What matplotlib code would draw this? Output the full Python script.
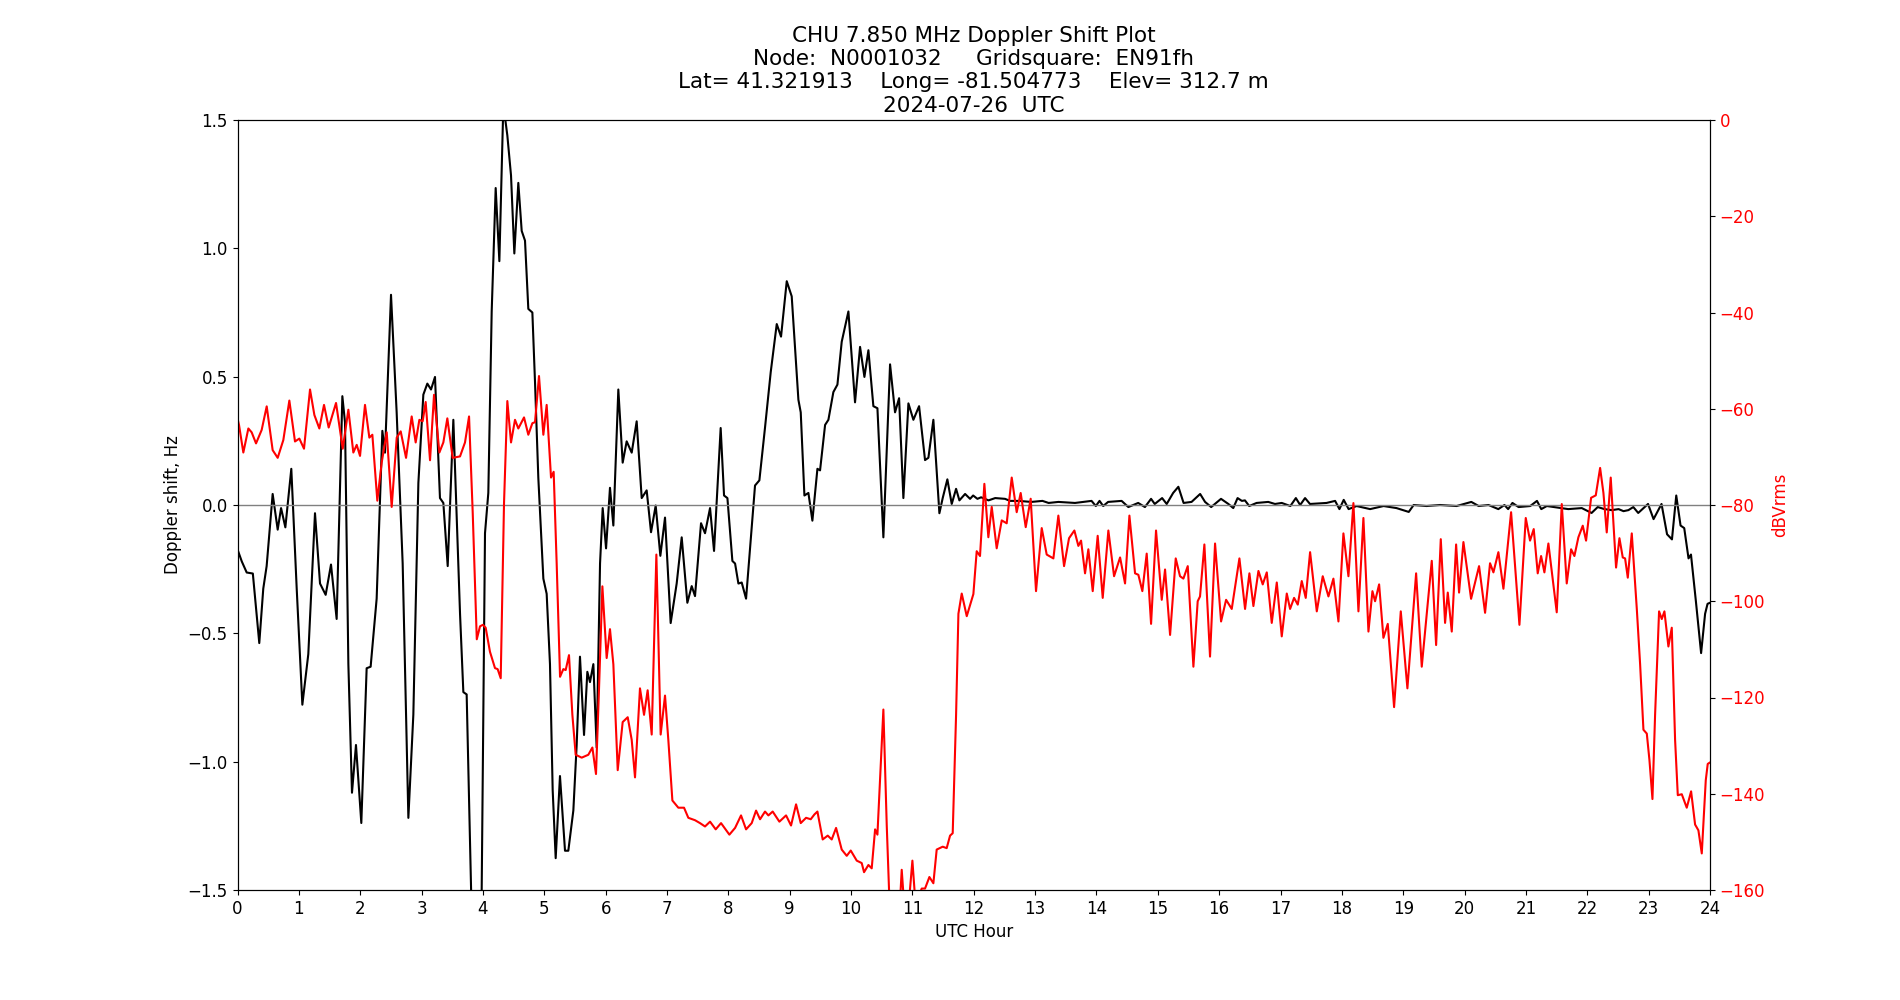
import numpy as np
import matplotlib
matplotlib.use("Agg")
import matplotlib.pyplot as plt

# Doppler shift (Hz)
dop_hours = [0.0, 0.07, 0.15, 0.25, 0.355, 0.42, 0.475, 0.573, 0.655, 0.71, 0.78, 0.877, 0.965,
             1.057, 1.154, 1.263, 1.345, 1.437, 1.524, 1.616, 1.709, 1.752, 1.807, 1.866, 1.931,
             2.018, 2.105, 2.17, 2.268, 2.361, 2.404, 2.502, 2.594, 2.692, 2.785, 2.866, 2.948,
             3.029, 3.094, 3.154, 3.219, 3.3, 3.355, 3.426, 3.518, 3.627, 3.681, 3.735, 3.817,
             3.87, 3.95, 3.98, 4.034, 4.088, 4.143, 4.208, 4.268, 4.333, 4.398, 4.458, 4.512,
             4.577, 4.632, 4.686, 4.74, 4.806, 4.849, 4.903, 4.985, 5.039, 5.093, 5.137, 5.186,
             5.256, 5.338, 5.392, 5.474, 5.528, 5.582, 5.648, 5.702, 5.745, 5.8, 5.854, 5.909,
             5.952, 6.007, 6.071, 6.126, 6.207, 6.278, 6.343, 6.425, 6.506, 6.588, 6.669, 6.74,
             6.816, 6.892, 6.968, 7.06, 7.158, 7.24, 7.332, 7.403, 7.457, 7.555, 7.62, 7.702,
             7.767, 7.875, 7.93, 7.985, 8.066, 8.11, 8.164, 8.218, 8.289, 8.354, 8.435, 8.506,
             8.598, 8.691, 8.789, 8.859, 8.952, 9.033, 9.087, 9.142, 9.18, 9.24, 9.305, 9.37,
             9.452, 9.495, 9.577, 9.631, 9.712, 9.778, 9.848, 9.957, 10.065, 10.147, 10.218,
             10.283, 10.364, 10.43, 10.527, 10.636, 10.717, 10.783, 10.853, 10.935, 11.016,
             11.109, 11.206, 11.261, 11.342, 11.44, 11.494, 11.57, 11.641, 11.712, 11.766,
             11.859, 11.94, 11.99, 12.06, 12.12, 12.24, 12.35, 12.51, 12.59, 12.73, 12.94,
             13.12, 13.22, 13.38, 13.65, 13.92, 13.99, 14.05, 14.11, 14.19, 14.41, 14.52,
             14.68, 14.79, 14.89, 14.95, 15.07, 15.145, 15.25, 15.335, 15.42, 15.55, 15.69,
             15.77, 15.87, 16.03, 16.15, 16.23, 16.3, 16.37, 16.42, 16.49, 16.61, 16.8, 16.91,
             17.02, 17.16, 17.25, 17.32, 17.4, 17.48, 17.75, 17.89, 17.96, 18.03, 18.11, 18.24,
             18.46, 18.68, 18.89, 19.09, 19.17, 19.38, 19.6, 19.87, 20.11, 20.23, 20.39, 20.55,
             20.65, 20.71, 20.78, 20.88, 21.07, 21.18, 21.25, 21.34, 21.58, 21.69, 21.91, 22.07,
             22.17, 22.28, 22.4, 22.51, 22.59, 22.67, 22.75, 22.83, 22.99, 23.08, 23.21, 23.3,
             23.38, 23.45, 23.52, 23.58, 23.65, 23.69, 23.77, 23.855, 23.92, 23.96, 24.0]
dop_hz = [-0.173, -0.22, -0.263, -0.267, -0.538, -0.326, -0.238, 0.043, -0.096, -0.012, -0.087, 0.141, -0.326,
          -0.778, -0.581, -0.032, -0.306, -0.35, -0.232, -0.444, 0.424, 0.322, -0.62, -1.121, -0.935,
          -1.239, -0.636, -0.63, -0.365, 0.289, 0.204, 0.819, 0.361, -0.228, -1.219, -0.817, 0.086,
          0.43, 0.473, 0.45, 0.499, 0.027, 0.008, -0.238, 0.332, -0.424, -0.729, -0.738, -1.6,
          -1.9, -1.7, -1.5, -0.11, 0.047, 0.754, 1.235, 0.95, 1.56, 1.44, 1.284, 0.98,
          1.255, 1.068, 1.03, 0.764, 0.75, 0.479, 0.106, -0.287, -0.346, -0.62, -1.111, -1.376,
          -1.056, -1.347, -1.347, -1.19, -0.935, -0.591, -0.896, -0.65, -0.69, -0.62, -0.945, -0.228,
          -0.012, -0.169, 0.067, -0.08, 0.45, 0.165, 0.248, 0.204, 0.326, 0.027, 0.057, -0.106,
          -0.002, -0.198, -0.049, -0.46, -0.306, -0.126, -0.381, -0.316, -0.355, -0.071, -0.11, -0.012,
          -0.179, 0.3, 0.037, 0.027, -0.218, -0.228, -0.306, -0.302, -0.365, -0.169, 0.076, 0.096,
          0.302, 0.518, 0.705, 0.656, 0.872, 0.813, 0.616, 0.41, 0.361, 0.037, 0.047, -0.061,
          0.141, 0.135, 0.312, 0.332, 0.44, 0.469, 0.636, 0.754, 0.4, 0.616, 0.499,
          0.603, 0.385, 0.377, -0.126, 0.548, 0.361, 0.416, 0.027, 0.396, 0.332,
          0.385, 0.175, 0.184, 0.332, -0.032, 0.027, 0.1, 0.004, 0.063, 0.018,
          0.043, 0.024, 0.037, 0.024, 0.03, 0.018, 0.027, 0.024, 0.016, 0.016, 0.012,
          0.016, 0.008, 0.012, 0.008, 0.016, -0.004, 0.016, -0.004, 0.012, 0.016, -0.008,
          0.008, -0.008, 0.024, 0.004, 0.027, 0.004, 0.047, 0.071, 0.008, 0.012, 0.043,
          0.012, -0.008, 0.024, 0.004, -0.012, 0.027, 0.016, 0.018, -0.004, 0.008, 0.012, 0.004,
          0.008, -0.004, 0.027, 0.0, 0.027, 0.004, 0.008, 0.016, -0.016, 0.02, -0.016, -0.004,
          -0.016, -0.004, -0.012, -0.027, 0.0, -0.004, 0.0, -0.004, 0.012, -0.004, 0.0, -0.016,
          0.0, -0.016, 0.008, -0.008, -0.004, 0.016, -0.016, -0.004, -0.012, -0.016, -0.012, -0.031,
          -0.008, -0.016, -0.02, -0.016, -0.024, -0.02, -0.008, -0.031, 0.004, -0.055, 0.004, -0.114,
          -0.134, 0.037, -0.08, -0.09, -0.208, -0.193, -0.375, -0.577, -0.424, -0.385, -0.381]

# signal level (dBVrms)
pwr_hours = [0.0, 0.025, 0.095, 0.177, 0.231, 0.302, 0.394, 0.476, 0.573, 0.655, 0.747, 0.845, 0.937,
             1.008, 1.084, 1.182, 1.253, 1.334, 1.41, 1.486, 1.606, 1.715, 1.807, 1.888, 1.943,
             1.997, 2.078, 2.149, 2.198, 2.279, 2.35, 2.432, 2.513, 2.595, 2.66, 2.747, 2.839,
             2.904, 2.964, 3.018, 3.067, 3.138, 3.203, 3.29, 3.355, 3.42, 3.507, 3.627, 3.708,
             3.774, 3.834, 3.9, 3.953, 4.0, 4.045, 4.115, 4.197, 4.24, 4.29, 4.344, 4.398,
             4.458, 4.523, 4.577, 4.67, 4.74, 4.806, 4.849, 4.914, 4.985, 5.039, 5.11, 5.153,
             5.202, 5.257, 5.311, 5.349, 5.403, 5.458, 5.512, 5.61, 5.718, 5.784, 5.843, 5.892,
             5.947, 6.017, 6.071, 6.126, 6.197, 6.278, 6.36, 6.425, 6.479, 6.56, 6.626, 6.685,
             6.751, 6.827, 6.897, 6.968, 7.022, 7.088, 7.185, 7.278, 7.348, 7.457, 7.538, 7.62,
             7.702, 7.794, 7.881, 8.017, 8.11, 8.207, 8.289, 8.381, 8.452, 8.517, 8.598, 8.653,
             8.723, 8.832, 8.941, 9.022, 9.104, 9.18, 9.267, 9.343, 9.403, 9.452, 9.538, 9.62,
             9.685, 9.756, 9.848, 9.93, 9.995, 10.093, 10.174, 10.212, 10.283, 10.337, 10.392,
             10.43, 10.527, 10.582, 10.625, 10.68, 10.745, 10.8, 10.826, 10.86, 10.9, 10.96,
             11.0, 11.04, 11.08, 11.152, 11.206, 11.277, 11.342, 11.396, 11.494, 11.559, 11.614,
             11.657, 11.712, 11.75, 11.804, 11.886, 11.994, 12.048, 12.102, 12.173, 12.238,
             12.293, 12.374, 12.456, 12.537, 12.619, 12.7, 12.765, 12.847, 12.928, 13.015, 13.108,
             13.189, 13.298, 13.379, 13.472, 13.553, 13.64, 13.705, 13.749, 13.814, 13.868, 13.939,
             14.02, 14.102, 14.194, 14.287, 14.385, 14.466, 14.537, 14.629, 14.683, 14.748, 14.819,
             14.89, 14.971, 15.064, 15.118, 15.2, 15.292, 15.362, 15.417, 15.488, 15.58, 15.65,
             15.688, 15.759, 15.851, 15.933, 16.031, 16.113, 16.205, 16.33, 16.422, 16.493, 16.558,
             16.64, 16.71, 16.776, 16.857, 16.939, 17.02, 17.102, 17.156, 17.221, 17.281, 17.346,
             17.411, 17.482, 17.591, 17.688, 17.781, 17.862, 17.944, 18.025, 18.107, 18.188, 18.27,
             18.351, 18.433, 18.498, 18.541, 18.607, 18.677, 18.748, 18.851, 18.96, 19.068, 19.21,
             19.302, 19.384, 19.465, 19.536, 19.612, 19.682, 19.726, 19.791, 19.862, 19.91, 19.981,
             20.106, 20.236, 20.334, 20.415, 20.47, 20.551, 20.633, 20.758, 20.894, 20.997, 21.067,
             21.127, 21.192, 21.247, 21.301, 21.366, 21.502, 21.584, 21.665, 21.736, 21.79, 21.855,
             21.926, 21.98, 22.062, 22.138, 22.209, 22.263, 22.317, 22.382, 22.469, 22.524, 22.578,
             22.616, 22.66, 22.725, 22.807, 22.861, 22.915, 22.97, 23.013, 23.062, 23.105, 23.17,
             23.214, 23.257, 23.322, 23.377, 23.431, 23.475, 23.54, 23.621, 23.692, 23.757, 23.811,
             23.866, 23.931, 23.963, 24.0]
pwr_db = [-62.0, -63.4, -69.1, -64.1, -64.9, -67.2, -64.4, -59.5, -68.6, -70.2, -66.5, -58.3, -66.8,
          -66.2, -68.3, -56.0, -61.3, -64.1, -59.2, -63.9, -58.8, -68.3, -60.2, -69.1, -67.5,
          -69.8, -59.2, -66.0, -65.4, -79.1, -71.2, -64.9, -80.4, -66.0, -64.7, -70.2, -61.6,
          -67.0, -62.3, -62.6, -58.6, -70.7, -57.1, -69.1, -67.0, -62.0, -70.2, -69.9, -67.0,
          -61.6, -81.7, -107.9, -105.2, -104.9, -105.5, -110.5, -113.9, -114.1, -116.0, -79.6, -58.4,
          -67.0, -62.3, -64.1, -61.8, -65.4, -63.0, -62.8, -53.2, -65.4, -59.2, -74.3, -73.1,
          -92.1, -115.7, -114.1, -114.3, -111.2, -123.6, -131.9, -132.5, -131.9, -130.4, -135.9, -118.3,
          -96.9, -111.8, -105.8, -113.1, -135.1, -125.1, -124.1, -128.8, -136.6, -118.1, -123.6, -118.5,
          -127.7, -90.3, -127.7, -119.6, -128.8, -141.4, -142.9, -142.9, -145.0, -145.5, -146.1, -146.8,
          -145.8, -147.4, -146.1, -148.5, -147.1, -144.5, -147.4, -146.1, -143.5, -145.3, -143.7, -144.5,
          -143.7, -145.8, -144.5, -146.6, -142.2, -146.1, -145.0, -145.3, -144.3, -143.7, -149.5, -148.7,
          -149.5, -147.1, -151.6, -152.9, -151.8, -153.9, -154.4, -156.3, -154.8, -155.5, -147.4,
          -148.5, -122.5, -146.6, -162.0, -170.0, -168.0, -162.0, -155.8, -162.0, -165.0, -160.0,
          -153.9, -161.0, -162.0, -159.7, -159.7, -157.3, -158.6, -151.6, -151.0, -151.3, -148.7,
          -148.2, -123.6, -102.6, -98.4, -103.1, -98.5, -89.6, -90.6, -75.6, -86.7,
          -80.4, -89.0, -83.2, -83.8, -74.3, -81.5, -77.5, -84.6, -78.7, -97.9, -84.8,
          -90.3, -91.1, -82.2, -92.7, -86.9, -85.3, -88.5, -87.4, -94.2, -89.2, -97.9,
          -86.4, -99.3, -85.3, -94.8, -90.9, -96.3, -82.2, -94.2, -94.5, -97.9, -90.1,
          -104.7, -85.3, -99.7, -93.4, -107.0, -91.1, -94.8, -95.3, -92.7, -113.6, -100.0,
          -99.0, -88.2, -111.5, -88.0, -104.2, -99.7, -101.6, -91.1, -101.6, -94.2, -101.0,
          -93.7, -96.5, -94.0, -104.5, -96.1, -107.3, -98.4, -101.6, -99.3, -100.7, -95.8,
          -99.3, -89.8, -102.1, -94.8, -99.0, -95.3, -104.2, -85.9, -94.8, -79.6, -102.1,
          -82.7, -106.3, -97.9, -100.0, -96.5, -107.6, -104.7, -122.0, -102.1, -118.1, -94.2,
          -113.6, -102.6, -91.6, -109.1, -87.1, -104.5, -98.2, -106.3, -88.2, -98.2, -87.7,
          -99.5, -92.7, -102.4, -92.1, -94.0, -89.8, -97.4, -81.5, -104.9, -82.7, -87.4,
          -85.0, -94.2, -90.6, -94.0, -88.0, -102.3, -79.8, -96.3, -89.2, -90.6, -86.7,
          -84.3, -87.4, -78.5, -78.0, -72.3, -77.5, -85.7, -74.3, -93.0, -86.9, -90.9,
          -91.1, -95.1, -85.9, -101.6, -113.1, -126.7, -127.5, -133.0, -141.1, -123.6, -102.1,
          -103.7, -102.1, -109.4, -105.5, -128.8, -140.3, -140.1, -142.9, -139.5, -146.4, -147.6,
          -152.4, -137.2, -133.8, -133.5]

hour_ticks = list(range(0, 25))
hz_ticks = [-1.5, -1.0, -0.5, 0.0, 0.5, 1.0, 1.5]
db_ticks = [0, -20, -40, -60, -80, -100, -120, -140, -160]

plt.rcParams['font.size'] = 12

fig, ax = plt.subplots(figsize=(19, 10), dpi=100)
ax.plot(dop_hours, dop_hz, color='black', linewidth=1.5)
ax.axhline(0, color='gray', linewidth=1)
ax.set_xlim(0, 24)
ax.set_ylim(-1.5, 1.5)
ax.set_xticks(hour_ticks)
ax.set_yticks(hz_ticks)
ax.set_xlabel('UTC Hour')
ax.set_ylabel('Doppler shift, Hz')
ax.set_title('CHU 7.850 MHz Doppler Shift Plot\n'
             'Node:  N0001032     Gridsquare:  EN91fh\n'
             'Lat= 41.321913    Long= -81.504773    Elev= 312.7 m\n'
             '2024-07-26  UTC', fontsize=15.5)

ax2 = ax.twinx()
ax2.plot(pwr_hours, pwr_db, color='red', linewidth=1.5)
ax2.set_ylim(-160, 0)
ax2.set_yticks(db_ticks)
ax2.set_ylabel('dBVrms', color='red')
ax2.tick_params(axis='y', labelcolor='red')

fig.savefig('out.png')
